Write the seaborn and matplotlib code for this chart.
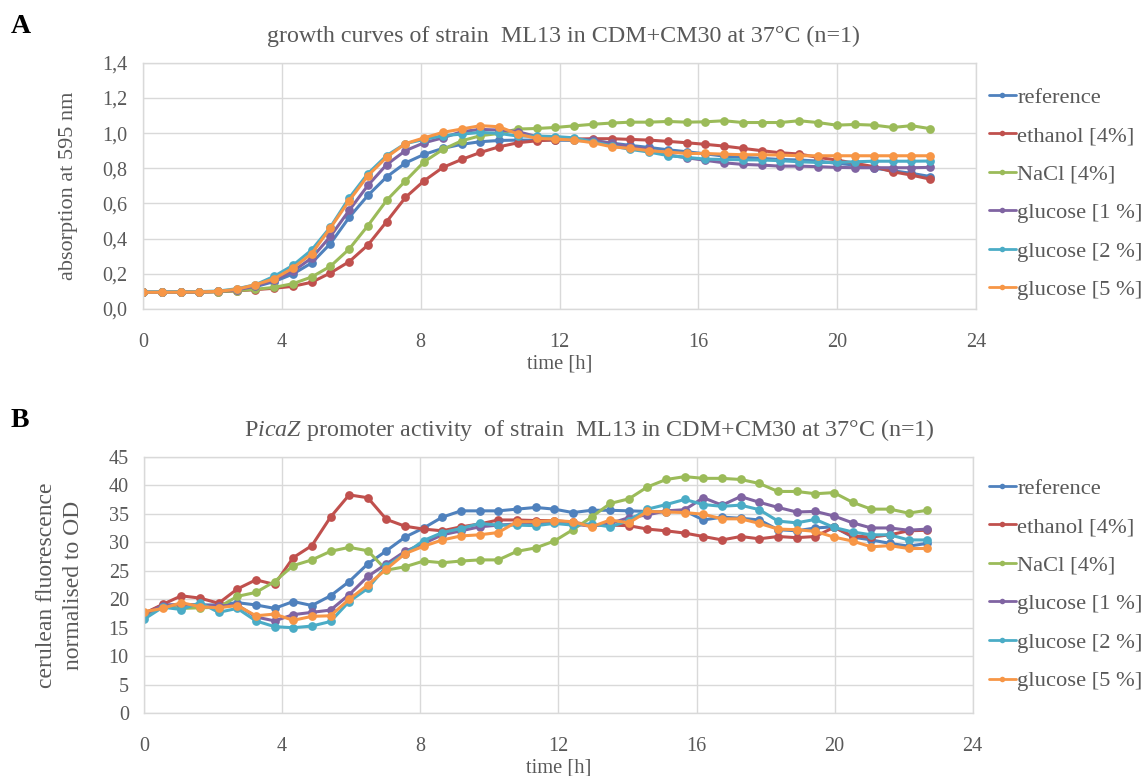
import matplotlib
matplotlib.use("Agg")
import matplotlib.pyplot as plt
import seaborn as sns
import pandas as pd

# sampling times [h]
time_h = [0.00, 0.54, 1.08, 1.62, 2.16, 2.70, 3.24, 3.78, 4.32, 4.86,
          5.40, 5.94, 6.48, 7.02, 7.56, 8.10, 8.64, 9.18, 9.72, 10.26,
          10.80, 11.34, 11.88, 12.42, 12.96, 13.50, 14.04, 14.58, 15.12, 15.66,
          16.20, 16.74, 17.28, 17.82, 18.36, 18.90, 19.44, 19.98, 20.52, 21.06,
          21.60, 22.14, 22.68]

conditions = ["reference", "ethanol [4%]", "NaCl [4%]",
              "glucose [1 %]", "glucose [2 %]", "glucose [5 %]"]

# absorption at 595 nm
od_reference = [0.095, 0.095, 0.096, 0.097, 0.100, 0.107, 0.127, 0.156, 0.199, 0.262,
                0.372, 0.521, 0.646, 0.751, 0.830, 0.879, 0.913, 0.936, 0.951, 0.958,
                0.960, 0.960, 0.960, 0.958, 0.955, 0.943, 0.930, 0.918, 0.905, 0.894,
                0.882, 0.869, 0.862, 0.856, 0.850, 0.847, 0.841, 0.828, 0.818, 0.800,
                0.786, 0.771, 0.753]
od_ethanol = [0.095, 0.095, 0.095, 0.096, 0.098, 0.103, 0.110, 0.118, 0.129, 0.152,
              0.205, 0.269, 0.364, 0.497, 0.634, 0.729, 0.805, 0.850, 0.890, 0.922,
              0.945, 0.956, 0.962, 0.966, 0.968, 0.968, 0.964, 0.960, 0.953, 0.945,
              0.936, 0.926, 0.913, 0.900, 0.888, 0.881, 0.862, 0.847, 0.828, 0.809,
              0.780, 0.761, 0.738]
od_nacl = [0.095, 0.095, 0.095, 0.096, 0.098, 0.104, 0.112, 0.123, 0.144, 0.182,
           0.243, 0.341, 0.474, 0.618, 0.728, 0.837, 0.907, 0.956, 0.985, 0.998,
           1.023, 1.026, 1.032, 1.041, 1.050, 1.057, 1.062, 1.062, 1.066, 1.062,
           1.064, 1.070, 1.060, 1.060, 1.060, 1.070, 1.060, 1.045, 1.049, 1.045,
           1.032, 1.042, 1.025]
od_glc1 = [0.095, 0.095, 0.096, 0.097, 0.100, 0.108, 0.130, 0.165, 0.214, 0.290,
           0.413, 0.561, 0.703, 0.821, 0.900, 0.945, 0.973, 1.008, 1.021, 1.017,
           1.008, 0.980, 0.970, 0.965, 0.960, 0.941, 0.922, 0.907, 0.875, 0.860,
           0.845, 0.831, 0.822, 0.818, 0.812, 0.812, 0.809, 0.805, 0.803, 0.803,
           0.803, 0.803, 0.805]
od_glc2 = [0.097, 0.097, 0.098, 0.099, 0.102, 0.115, 0.138, 0.186, 0.248, 0.336,
           0.466, 0.631, 0.770, 0.872, 0.940, 0.964, 0.985, 0.994, 1.004, 0.998,
           0.983, 0.983, 0.980, 0.973, 0.950, 0.928, 0.907, 0.892, 0.872, 0.862,
           0.852, 0.850, 0.848, 0.847, 0.843, 0.837, 0.833, 0.833, 0.837, 0.840,
           0.840, 0.840, 0.841]
od_glc5 = [0.095, 0.095, 0.096, 0.097, 0.100, 0.112, 0.138, 0.172, 0.233, 0.315,
           0.461, 0.616, 0.758, 0.863, 0.940, 0.973, 1.004, 1.023, 1.042, 1.036,
           0.994, 0.970, 0.966, 0.960, 0.945, 0.922, 0.913, 0.900, 0.892, 0.884,
           0.884, 0.880, 0.877, 0.877, 0.875, 0.871, 0.871, 0.871, 0.871, 0.871,
           0.871, 0.871, 0.871]

# cerulean fluorescence normalised to OD
fl_reference = [17.5, 19.0, 19.0, 19.0, 19.0, 19.4, 19.0, 18.4, 19.6, 18.9,
                20.6, 23.1, 26.2, 28.5, 30.9, 32.5, 34.4, 35.5, 35.5, 35.5,
                35.8, 36.1, 35.8, 35.2, 35.6, 35.6, 35.5, 35.4, 35.3, 35.5,
                33.9, 34.4, 34.2, 33.9, 32.2, 32.0, 32.5, 32.7, 30.9, 30.4,
                29.8, 29.3, 29.8]
fl_ethanol = [17.5, 19.1, 20.6, 20.2, 19.3, 21.8, 23.4, 22.6, 27.3, 29.4,
              34.4, 38.3, 37.8, 34.0, 32.8, 32.3, 32.0, 32.7, 33.2, 33.9,
              33.9, 33.8, 33.8, 33.5, 33.0, 33.0, 32.9, 32.3, 32.0, 31.6,
              31.0, 30.4, 31.0, 30.6, 31.0, 30.8, 31.0, 32.6, 31.1, 30.9,
              31.3, 32.0, 32.1]
fl_nacl = [17.0, 18.7, 18.4, 18.5, 18.6, 20.5, 21.2, 23.1, 25.9, 26.9,
           28.4, 29.1, 28.5, 25.1, 25.7, 26.7, 26.4, 26.7, 26.9, 26.9,
           28.4, 29.0, 30.2, 32.2, 34.4, 36.8, 37.6, 39.7, 41.0, 41.5,
           41.2, 41.2, 41.0, 40.3, 38.9, 38.9, 38.5, 38.7, 37.0, 35.8,
           35.8, 35.1, 35.6]
fl_glc1 = [17.3, 18.9, 19.1, 19.0, 18.8, 19.0, 16.9, 16.2, 17.3, 17.7,
           18.1, 20.8, 24.0, 26.2, 28.4, 29.8, 31.3, 32.0, 32.7, 33.0,
           33.2, 33.3, 33.5, 33.2, 32.8, 33.3, 34.3, 34.8, 35.5, 35.7,
           37.8, 36.5, 38.0, 37.0, 36.1, 35.3, 35.4, 34.6, 33.4, 32.5,
           32.5, 32.1, 32.3]
fl_glc2 = [16.5, 18.6, 18.2, 19.4, 17.7, 18.4, 16.2, 15.2, 15.0, 15.3,
           16.1, 19.6, 21.9, 25.8, 28.0, 30.3, 31.7, 32.4, 33.3, 33.0,
           33.0, 32.9, 33.3, 33.0, 33.2, 32.7, 33.8, 35.8, 36.6, 37.5,
           36.6, 36.3, 36.5, 35.7, 33.7, 33.4, 34.0, 32.6, 31.8, 31.3,
           31.3, 30.4, 30.4]
fl_glc5 = [17.8, 18.4, 19.4, 18.7, 18.5, 18.9, 17.1, 17.4, 16.3, 17.0,
           17.1, 20.0, 22.5, 25.3, 28.0, 29.3, 30.4, 31.1, 31.3, 31.7,
           33.6, 33.6, 33.8, 33.6, 32.7, 33.9, 33.4, 35.4, 35.3, 35.2,
           34.9, 34.1, 34.1, 33.3, 32.3, 32.2, 31.9, 30.9, 30.2, 29.2,
           29.4, 28.9, 28.9]

od_series = [od_reference, od_ethanol, od_nacl, od_glc1, od_glc2, od_glc5]
fl_series = [fl_reference, fl_ethanol, fl_nacl, fl_glc1, fl_glc2, fl_glc5]

palette = ["#4F81BD", "#C0504D", "#9BBB59", "#8064A2", "#4BACC6", "#F79646"]
text_grey = "#595959"
grid_grey = "#D9D9D9"


def long_table(series):
    rows = []
    for name, values in zip(conditions, series):
        for t, v in zip(time_h, values):
            rows.append({"time": t, "value": v, "condition": name})
    return pd.DataFrame(rows)


sns.set_theme(style="white")
plt.rcParams["font.family"] = ["Liberation Serif", "DejaVu Serif"]
plt.rcParams["mathtext.fontset"] = "custom"
plt.rcParams["mathtext.rm"] = "Liberation Serif"
plt.rcParams["mathtext.it"] = "Liberation Serif:italic"

fig = plt.figure(figsize=(11.46, 7.76), dpi=100)
ax_a = fig.add_axes([0.1248, 0.6018, 0.7269, 0.3174])
ax_b = fig.add_axes([0.1257, 0.0808, 0.7231, 0.3307])


def draw_panel(ax, series, ylim, yticks, ytick_labels, title, title_x,
               ylabel, ylabel_size, ylabel_x, ylabel_spacing, legend_top):
    data = long_table(series)
    sns.lineplot(data=data, x="time", y="value", hue="condition",
                 hue_order=conditions, palette=palette, ax=ax,
                 marker="o", markersize=6.3, markeredgewidth=0,
                 linewidth=2.2, legend=False)
    ax.set_xlim(0, 24)
    ax.set_xticks([0, 4, 8, 12, 16, 20, 24])
    ax.set_ylim(*ylim)
    ax.set_yticks(yticks)
    ax.set_yticklabels(ytick_labels)
    ax.grid(True, color=grid_grey, linewidth=1.0)
    ax.set_axisbelow(True)
    for sp in ax.spines.values():
        sp.set_color(grid_grey)
        sp.set_linewidth(1.0)
    ax.tick_params(axis="both", length=0, labelsize=14.5,
                   labelcolor=text_grey)
    ax.tick_params(axis="y", pad=11)
    ax.tick_params(axis="x", pad=17)
    ax.set_xlabel("time [h]", fontsize=14.8, color=text_grey, labelpad=2)
    ax.set_ylabel(ylabel, fontsize=ylabel_size, color=text_grey,
                  linespacing=ylabel_spacing)
    ax.yaxis.set_label_coords(ylabel_x, 0.5)
    ax.set_title(title, fontsize=17.3, color=text_grey, pad=15, x=title_x)

    handles = [plt.Line2D([], [], color=c, linewidth=2.0, marker="o",
                          markersize=4, markeredgewidth=0) for c in palette]
    ax.legend(handles, conditions, loc="upper left",
              bbox_to_anchor=(0.863, legend_top),
              bbox_transform=fig.transFigure, frameon=False,
              fontsize=16.2, handlelength=1.2, handletextpad=0.05,
              labelspacing=0.79, borderaxespad=0, borderpad=0,
              labelcolor=text_grey)


draw_panel(ax_a, od_series, (0, 1.4),
           [0, 0.2, 0.4, 0.6, 0.8, 1.0, 1.2, 1.4],
           ["0,0", "0,2", "0,4", "0,6", "0,8", "1,0", "1,2", "1,4"],
           "growth curves of strain  ML13 in CDM+CM30 at 37°C (n=1)", 0.505,
           "absorption at 595 nm", 16, -0.078, 1.2, 0.888)
draw_panel(ax_b, fl_series, (0, 45), list(range(0, 50, 5)),
           [str(v) for v in range(0, 50, 5)],
           r"P$\it{icaZ}$ promoter activity  of strain  ML13 in CDM+CM30 at 37°C (n=1)",
           0.537,
           "cerulean fluorescence\nnormalised to OD", 17, -0.072, 1.4, 0.384)

fig.text(0.009, 0.966, "A", fontsize=20, fontweight="bold", color="black",
         va="center", ha="left")
fig.text(0.009, 0.458, "B", fontsize=20, fontweight="bold", color="black",
         va="center", ha="left")

fig.savefig("out.png", dpi=100)
